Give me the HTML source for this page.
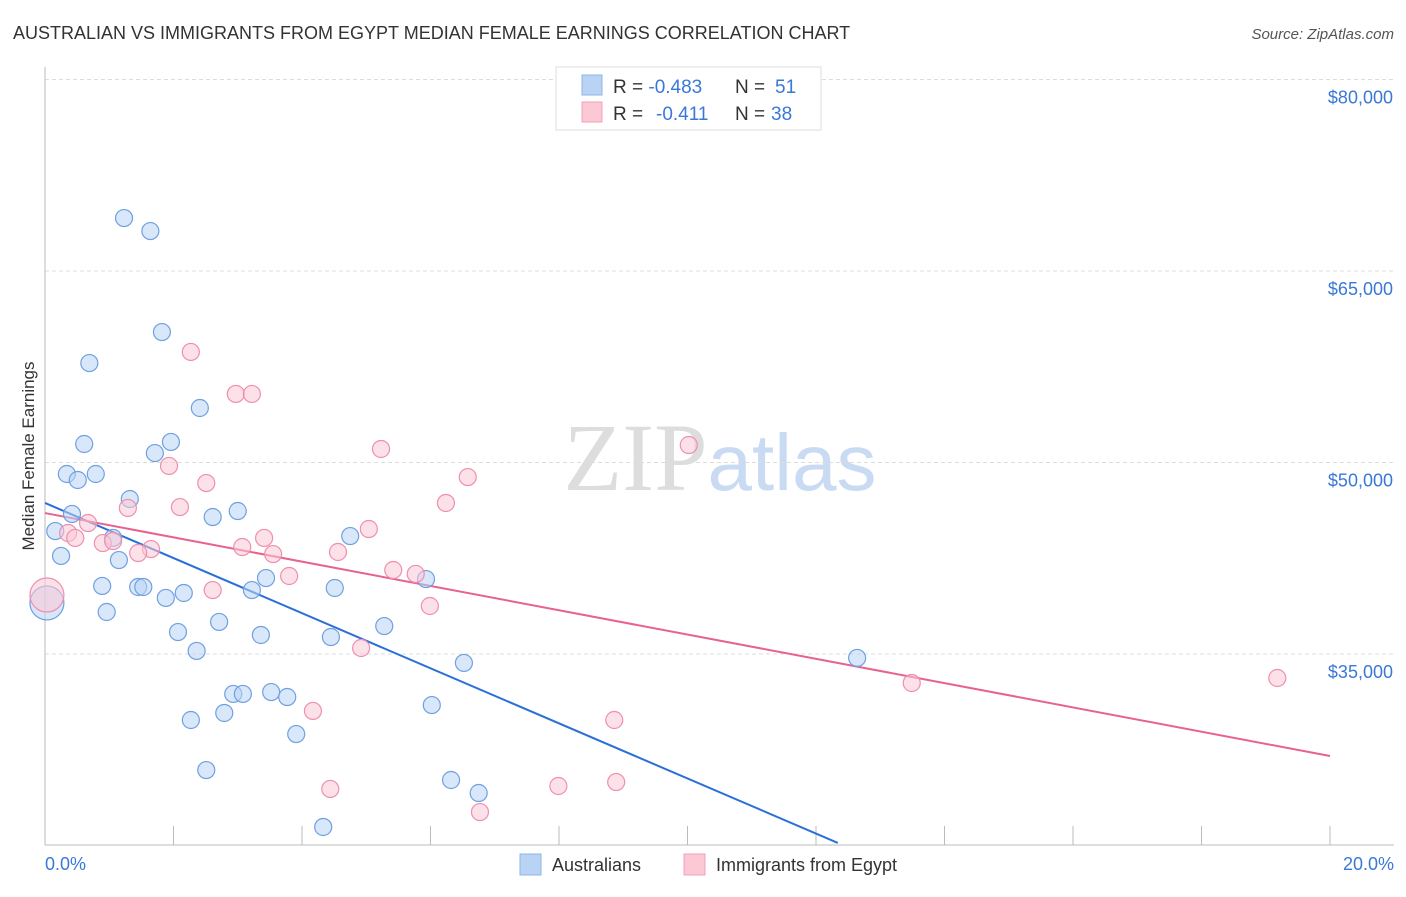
<!DOCTYPE html>
<html><head><meta charset="utf-8"><style>
body{margin:0;background:#fff;font-family:"Liberation Sans",sans-serif;}
svg text{font-family:"Liberation Sans",sans-serif;}
</style></head><body>
<svg id="chart" width="1406" height="892" xmlns="http://www.w3.org/2000/svg">
<text x="13" y="39" font-size="18" fill="#333">AUSTRALIAN VS IMMIGRANTS FROM EGYPT MEDIAN FEMALE EARNINGS CORRELATION CHART</text>
<text x="1394" y="39" font-size="15" fill="#555" text-anchor="end" font-style="italic">Source: ZipAtlas.com</text>
<text x="720" y="490" font-size="96" text-anchor="middle"><tspan fill="#ddd" font-family="Liberation Serif">ZIP</tspan><tspan fill="#c9daf3" font-size="80">atlas</tspan></text>
<g id="grid"></g>
<g id="axes"></g>
<text transform="translate(34,456) rotate(-90)" font-size="17" fill="#333" text-anchor="middle">Median Female Earnings</text>
<text x="45" y="870" font-size="18" fill="#3a78d8">0.0%</text>
<text x="1394" y="870" font-size="18" fill="#3a78d8" text-anchor="end">20.0%</text>
<g id="lines"></g>
<g id="points"></g>
<g>
<rect x="556" y="67" width="265" height="63" fill="#fff" stroke="#ddd"/>
<rect x="582" y="75" width="20" height="20" fill="#b9d3f5" stroke="#8fb5e8"/>
<rect x="582" y="102" width="20" height="20" fill="#fcc8d6" stroke="#f0a0b8"/>
<text x="613" y="93" font-size="19" fill="#333">R = <tspan fill="#3a78d8">-0.483</tspan><tspan x="735">N = </tspan><tspan fill="#3a78d8" x="775">51</tspan></text>
<text x="613" y="120" font-size="19" fill="#333">R = <tspan fill="#3a78d8" x="656">-0.411</tspan><tspan x="735">N = </tspan><tspan fill="#3a78d8" x="771">38</tspan></text>
</g>
<g>
<rect x="520" y="854" width="21" height="21" fill="#b9d3f5" stroke="#8fb5e8"/>
<text x="552" y="871" font-size="18" fill="#333">Australians</text>
<rect x="684" y="854" width="21" height="21" fill="#fcc8d6" stroke="#f0a0b8"/>
<text x="716" y="871" font-size="18" fill="#333">Immigrants from Egypt</text>
</g>
</svg>
<script>
const yTicks=[35000,50000,65000,80000];
const yTickLabels=["$35,000","$50,000","$65,000","$80,000"];
const xTicks=[0,2,4,6,8,10,12,14,16,18,20];
const ausX=[1.23,1.64,1.82,0.69,2.41,0.61,1.96,1.71,0.34,0.79,0.51,1.32,0.42,2.61,3.0,0.16,1.06,0.25,1.15,4.75,0.89,1.45,1.53,2.16,1.88,3.44,3.22,4.51,5.93,0.96,2.71,5.28,2.07,3.36,4.45,2.36,6.52,12.64,2.93,3.08,3.52,3.77,6.02,2.27,2.79,3.91,2.51,6.32,6.75,4.33,0.03];
const ausY=[69150,68130,60220,57790,54270,51450,51610,50740,49100,49100,48630,47140,45970,45730,46200,44630,44090,42680,42360,44240,40330,40250,40250,39780,39390,40950,40010,40170,40870,38290,37510,37190,36720,36490,36330,35240,34300,34690,31870,31870,32020,31630,31000,29830,30380,28730,25910,25130,24110,21450,39000];
const egX=[2.27,2.97,3.22,5.23,10.02,1.93,6.58,2.51,6.24,2.1,1.29,0.67,0.36,0.47,0.9,1.06,5.04,3.41,1.65,1.45,3.07,3.55,4.56,5.42,5.77,3.8,2.61,5.99,4.92,13.49,19.18,4.17,8.86,4.44,7.99,8.89,6.77,0.03];
const egY=[58660,55370,55370,51060,51370,49730,48860,48390,46830,46510,46440,45260,44480,44090,43690,43850,44790,44090,43220,42910,43380,42830,42990,41580,41270,41110,40010,38760,35470,32730,33120,30540,29830,24430,24660,24970,22620,39620];
const ausTrend=[46830,20200], ausTrendX=[0,12.34];
const egTrend=[46040,27010], egTrendX=[0,20];
const X=p=>45+p*64.25, Y=v=>654-(v-35000)*0.012766;
const NS="http://www.w3.org/2000/svg";
function mk(tag,attrs,parent){const e=document.createElementNS(NS,tag);for(const k in attrs)e.setAttribute(k,attrs[k]);parent.appendChild(e);return e;}
const grid=document.getElementById('grid'),axes=document.getElementById('axes');
yTicks.forEach((v,i)=>{
 const l=mk('line',{x1:45,x2:1394,y1:Y(v),y2:Y(v),stroke:'#ddd','stroke-dasharray':'4,3'},grid);
 
 
 const t=mk('text',{x:1393,y:Y(v)+24,'font-size':18,fill:'#3a78d8','text-anchor':'end'},grid);
 t.textContent=yTickLabels[i];
 
 
});
mk('line',{x1:45,x2:45,y1:67,y2:845,stroke:'#bbb'},axes);
mk('line',{x1:45,x2:1394,y1:845,y2:845,stroke:'#bbb'},axes);
xTicks.forEach(p=>{
 const l=mk('line',{x1:X(p),x2:X(p),y1:826,y2:845,stroke:'#bbb'},axes);
 
 
});
const pts=document.getElementById('points');
function series(xs,ys,fill,stroke,name){xs.forEach((x,i)=>{
 const c=mk('circle',{cx:X(x),cy:Y(ys[i]),r:(i==xs.length-1)?17:8.5,fill:fill,'fill-opacity':0.55,stroke:stroke,'stroke-width':1.2},pts);
 
 
});}
series(ausX,ausY,'#b9d3f5','#6fa0e0','australians-point');
series(egX,egY,'#fcc8d6','#ee8fae','egypt-point');
const lines=document.getElementById('lines');
const a=mk('line',{x1:X(ausTrendX[0]),y1:Y(ausTrend[0]),x2:X(ausTrendX[1]),y2:Y(ausTrend[1]),stroke:'#2a6fd8','stroke-width':2},lines);


const b=mk('line',{x1:X(egTrendX[0]),y1:Y(egTrend[0]),x2:X(egTrendX[1]),y2:Y(egTrend[1]),stroke:'#e8628f','stroke-width':2},lines);


</script>
</body></html>
